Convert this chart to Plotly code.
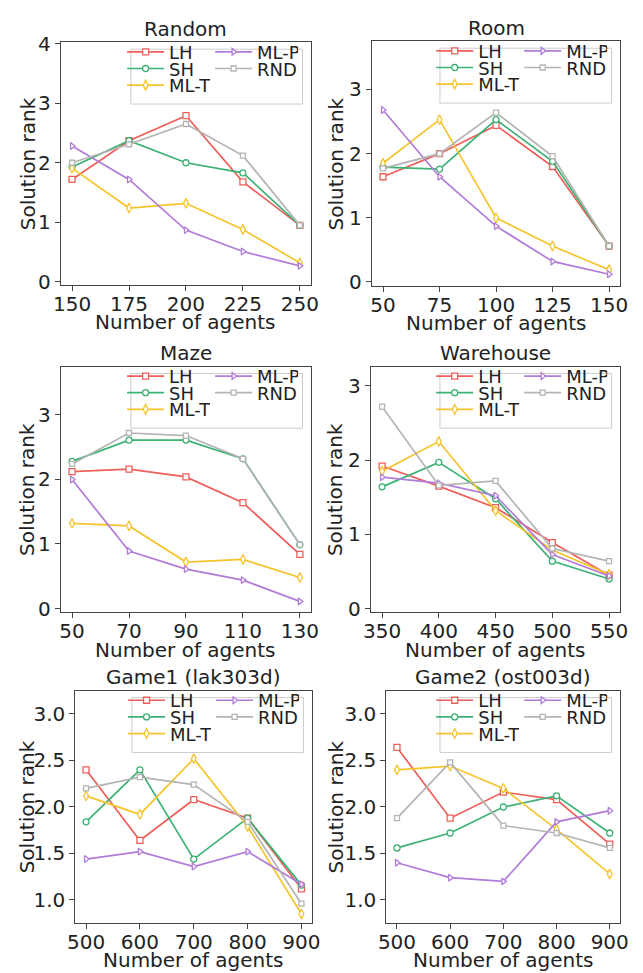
import plotly.graph_objects as go

# ---------------- data ----------------
methods = ["LH", "SH", "ML-T", "ML-P", "RND"]

random_x = [150, 175, 200, 225, 250]
random_LH = [1.72, 2.37, 2.79, 1.68, 0.95]
random_SH = [1.93, 2.37, 2.00, 1.83, 0.95]
random_MLT = [1.91, 1.24, 1.32, 0.88, 0.32]
random_MLP = [2.28, 1.72, 0.87, 0.51, 0.27]
random_RND = [2.00, 2.31, 2.65, 2.12, 0.95]

room_x = [50, 75, 100, 125, 150]
room_LH = [1.64, 2.00, 2.44, 1.80, 0.56]
room_SH = [1.79, 1.76, 2.53, 1.88, 0.56]
room_MLT = [1.85, 2.53, 1.00, 0.56, 0.19]
room_MLP = [2.68, 1.64, 0.87, 0.32, 0.12]
room_RND = [1.77, 2.00, 2.64, 1.96, 0.56]

maze_x = [50, 70, 90, 110, 130]
maze_LH = [2.12, 2.16, 2.04, 1.64, 0.84]
maze_SH = [2.28, 2.61, 2.61, 2.32, 0.99]
maze_MLT = [1.32, 1.28, 0.72, 0.76, 0.48]
maze_MLP = [2.00, 0.89, 0.61, 0.44, 0.11]
maze_RND = [2.24, 2.72, 2.68, 2.32, 0.99]

warehouse_x = [350, 400, 450, 500, 550]
warehouse_LH = [1.92, 1.65, 1.36, 0.89, 0.45]
warehouse_SH = [1.64, 1.97, 1.48, 0.64, 0.40]
warehouse_MLT = [1.85, 2.25, 1.32, 0.79, 0.46]
warehouse_MLP = [1.77, 1.69, 1.52, 0.73, 0.44]
warehouse_RND = [2.72, 1.66, 1.72, 0.81, 0.64]

game1_x = [500, 600, 700, 800, 900]
game1_LH = [2.40, 1.64, 2.08, 1.88, 1.12]
game1_SH = [1.84, 2.40, 1.44, 1.88, 1.16]
game1_MLT = [2.12, 1.92, 2.52, 1.79, 0.85]
game1_MLP = [1.44, 1.52, 1.36, 1.52, 1.17]
game1_RND = [2.20, 2.32, 2.24, 1.84, 0.96]

game2_x = [500, 600, 700, 800, 900]
game2_LH = [2.64, 1.88, 2.16, 2.08, 1.60]
game2_SH = [1.56, 1.72, 2.00, 2.12, 1.72]
game2_MLT = [2.40, 2.44, 2.20, 1.76, 1.28]
game2_MLP = [1.40, 1.24, 1.20, 1.84, 1.96]
game2_RND = [1.88, 2.48, 1.80, 1.72, 1.56]

titles = ["Random", "Room", "Maze", "Warehouse", "Game1 (lak303d)", "Game2 (ost003d)"]
x_title = "Number of agents"
y_title = "Solution rank"

# ---------------- styles ----------------
colors = {"LH": "#EF5F5A", "SH": "#3BB273", "ML-T": "#F5C42C", "ML-P": "#B07CD8", "RND": "#B4B4B4"}
symbols = {"LH": "square", "SH": "circle", "ML-T": "diamond-tall", "ML-P": "triangle-right", "RND": "square"}
msizes = {"LH": 6, "SH": 6, "ML-T": 7, "ML-P": 6, "RND": 5}
legend_row = {"LH": 0, "ML-P": 0, "SH": 1, "RND": 1, "ML-T": 2}

panels = [
    (random_x, [random_LH, random_SH, random_MLT, random_MLP, random_RND]),
    (room_x, [room_LH, room_SH, room_MLT, room_MLP, room_RND]),
    (maze_x, [maze_LH, maze_SH, maze_MLT, maze_MLP, maze_RND]),
    (warehouse_x, [warehouse_LH, warehouse_SH, warehouse_MLT, warehouse_MLP, warehouse_RND]),
    (game1_x, [game1_LH, game1_SH, game1_MLT, game1_MLP, game1_RND]),
    (game2_x, [game2_LH, game2_SH, game2_MLT, game2_MLP, game2_RND]),
]

W, H = 643, 973
# pixel boxes of plot areas: (left, right, top, bottom)
boxes = [
    (54, 311, 32, 280), (373, 628, 31, 281),
    (54, 311, 363, 614), (372, 628, 363, 614),
    (69, 312, 694, 931), (388, 628, 694, 931),
]
ytitle_x = [20, 336, 20, 336, 19, 336]
x_ranges = [[145, 255], [45, 155], [46, 134], [340, 560], [480, 920], [480, 920]]
y_ranges = [[-0.055, 4.02], [-0.066, 3.75], [-0.06, 3.75], [-0.05, 3.26], [0.754, 3.25], [0.754, 3.25]]
y_ticks = [[0, 1, 2, 3, 4], [0, 1, 2, 3], [0, 1, 2, 3], [0, 1, 2, 3],
           [1.0, 1.5, 2.0, 2.5, 3.0], [1.0, 1.5, 2.0, 2.5, 3.0]]
y_fmt = ["d", "d", "d", "d", ".1f", ".1f"]

FONT = "DejaVu Sans"
AX = "#444444"
TXT = "#222222"

def px_x(p):
    return p / W

def px_y(p):
    return 1 - p / H

fig = go.Figure()
layout = dict(width=W, height=H, margin=dict(l=0, r=0, t=0, b=0),
              paper_bgcolor="white", plot_bgcolor="white",
              font=dict(family=FONT, size=20, color=TXT),
              shapes=[], annotations=[])

for i, (xs, series) in enumerate(panels):
    xa = "x" if i == 0 else f"x{i+1}"
    ya = "y" if i == 0 else f"y{i+1}"
    for m, ys in zip(methods, series):
        leg_idx = i * 3 + legend_row[m] + 1
        leg = "legend" if leg_idx == 1 else f"legend{leg_idx}"
        fig.add_trace(go.Scatter(
            x=xs, y=ys, mode="lines+markers", name=m,
            xaxis=xa, yaxis=ya, legend=leg,
            line=dict(color=colors[m], width=1.7),
            marker=dict(symbol=symbols[m], size=msizes[m], color="white",
                        line=dict(color=colors[m], width=1.3)),
        ))
    l, r, t, b = boxes[i]
    axn = "xaxis" if i == 0 else f"xaxis{i+1}"
    ayn = "yaxis" if i == 0 else f"yaxis{i+1}"
    common = dict(showline=True, mirror=True, linecolor=AX, linewidth=1,
                  ticks="outside", ticklen=5, tickcolor=AX, tickwidth=1,
                  showgrid=False, zeroline=False, tickfont=dict(size=20, color=TXT))
    layout[axn] = dict(domain=[px_x(l), px_x(r)], range=x_ranges[i], anchor=ya,
                       tickmode="array", tickvals=xs, ticklabelstandoff=-4, **common)
    layout[ayn] = dict(domain=[px_y(b), px_y(t)], range=y_ranges[i], anchor=xa,
                       tickmode="array", tickvals=y_ticks[i], tickformat=y_fmt[i], **common)
    # subplot title
    layout["annotations"].append(dict(
        text=titles[i], x=px_x((l + r) / 2), y=px_y(t - 14), xref="paper", yref="paper",
        xanchor="center", yanchor="middle", showarrow=False,
        font=dict(size=20, family=FONT, color=TXT)))
    # axis titles
    layout["annotations"].append(dict(
        text=x_title, x=px_x((l + r) / 2), y=px_y(b + 38), xref="paper", yref="paper",
        xanchor="center", yanchor="middle", showarrow=False,
        font=dict(size=20, family=FONT, color=TXT)))
    layout["annotations"].append(dict(
        text=y_title, x=px_x(ytitle_x[i]), y=px_y((t + b) / 2), xref="paper", yref="paper",
        xanchor="center", yanchor="middle", textangle=-90, showarrow=False,
        font=dict(size=20, family=FONT, color=TXT)))
    # legend frame
    layout["shapes"].append(dict(
        type="rect", xref="paper", yref="paper", layer="above",
        x0=px_x(r - 185), x1=px_x(r - 9), y0=px_y(t + 63), y1=px_y(t + 7),
        line=dict(color="#CCCCCC", width=1), fillcolor="rgba(255,255,255,0.8)"))
    # legend rows
    for row in range(3):
        leg_idx = i * 3 + row + 1
        leg = "legend" if leg_idx == 1 else f"legend{leg_idx}"
        layout[leg] = dict(
            orientation="h", x=px_x(r - 194), y=px_y(t + 10 + row * 17),
            xanchor="left", yanchor="middle", bgcolor="rgba(0,0,0,0)", borderwidth=0,
            font=dict(size=18, family=FONT, color=TXT),
            itemwidth=37, entrywidth=36, entrywidthmode="pixels",
            tracegroupgap=0, itemclick=False, itemdoubleclick=False)

fig.update_layout(**layout)
fig.write_html("out.html")
